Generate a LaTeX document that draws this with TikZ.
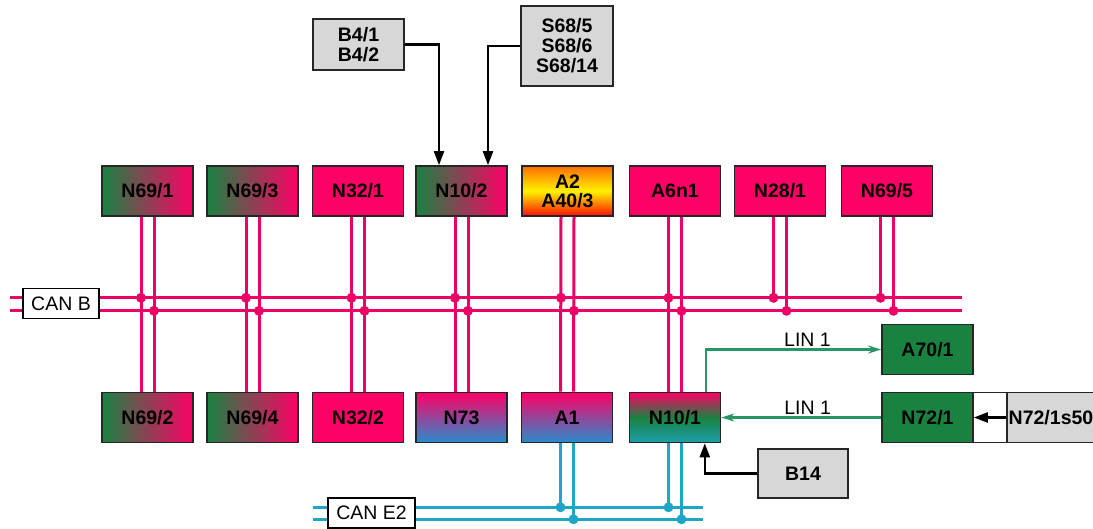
\documentclass[tikz,border=0pt]{standalone}
\usepackage{fontspec}
\setmainfont{Liberation Sans}
\usetikzlibrary{arrows.meta}

\definecolor{canbpink}{RGB}{236,0,102}
\definecolor{ecupink}{RGB}{255,0,102}
\definecolor{ecugreen}{RGB}{25,130,65}
\definecolor{canecyan}{RGB}{30,165,200}
\definecolor{ecublue}{RGB}{40,140,205}
\definecolor{lingreen}{RGB}{40,150,100}
\definecolor{sensorgray}{RGB}{215,215,215}

\begin{document}
\begin{tikzpicture}[x=1pt, y=-1pt,
        ecu/.style = {draw=black!85, line width=1.6pt, minimum width=91pt, minimum height=50pt,
                      inner sep=0pt, align=center, font=\fontsize{19.5}{21}\selectfont\bfseries},
        pinkecu/.style = {ecu, fill=ecupink},
        greenecu/.style = {ecu, fill=ecugreen},
        mixecu/.style = {ecu, left color=ecugreen, right color=ecupink},
        blueecu/.style = {ecu, top color=ecupink, bottom color=ecublue},
        sensor/.style = {ecu, fill=sensorgray, font=\fontsize{19.5}{20}\selectfont\bfseries},
        buslabel/.style = {draw, line width=1.5pt, fill=white, minimum height=30pt,
                           inner sep=3pt, font=\fontsize{19.5}{21}\selectfont},
        canb/.style = {draw=canbpink, line width=3pt},
        cane/.style = {draw=canecyan, line width=3pt},
        lin/.style = {draw=lingreen, line width=2.4pt, -{Stealth[length=13pt, width=8pt]}},
        sig/.style = {draw, line width=2.2pt, -{Triangle[length=14pt, width=10pt]}},
        lintext/.style = {font=\fontsize{19.5}{21}\selectfont, inner sep=2pt}]

    \useasboundingbox (0,0) rectangle (1093,528);

    % top row
    \node[mixecu]  (n691) at (147.5,191) {N69/1};
    \node[mixecu]  (n693) at (252.5,191) {N69/3};
    \node[pinkecu] (n321) at (358,191)   {N32/1};
    \node[mixecu]  (n102) at (461.5,191) {N10/2};
    \node[ecu, top color=orange!85!red, bottom color=red!90!orange, middle color=yellow!90!orange]
                   (a2)   at (567.5,191) {A2\\[-2pt]A40/3};
    \node[pinkecu] (a6n1) at (675,191)   {A6n1};
    \node[pinkecu] (n281) at (780,191)   {N28/1};
    \node[pinkecu] (n695) at (887,191)   {N69/5};

    % bottom row
    \node[mixecu]  (n692) at (147.5,417.5) {N69/2};
    \node[mixecu]  (n694) at (252.5,417.5) {N69/4};
    \node[pinkecu] (n322) at (358,417.5)   {N32/2};
    \node[blueecu] (n73)  at (461.5,417.5) {N73};
    \node[blueecu] (a1)   at (567,417.5)   {A1};
    \node[ecu, top color=ecupink, bottom color=canecyan!80!ecugreen, middle color=ecugreen]
                   (n101) at (675,417.5)   {N10/1};

    % LIN side
    \node[greenecu] (a701) at (927.5,349.5) {A70/1};
    \node[greenecu] (n721) at (927.5,417.5) {N72/1};
    \node[ecu, minimum width=34pt] (n72w) at (990,417.5) {};
    \node[sensor, minimum width=88pt] (n72s) at (1051,417.5) {N72/1s50};
    \node[sensor, minimum width=90pt, minimum height=49pt] (b14) at (803,473.5) {B14};

    % sensors on top
    \node[sensor, minimum height=51pt] (b4) at (358.5,44.5) {B4/1\\B4/2};
    \node[sensor, minimum width=92pt, minimum height=80pt] (s68) at (567,46) {S68/5\\S68/6\\S68/14};

    % CAN B
    \coordinate (canbl1) at (10,297);
    \coordinate (canbl2) at (10,310);
    \coordinate (canbr1) at (962,297);
    \coordinate (canbr2) at (962,310);
    \node[buslabel, minimum width=76pt] (canblab) at (61,303.5) {CAN B};
    \draw[canb] (canbl1) -- (canblab.west |- canbl1);
    \draw[canb] (canbl2) -- (canblab.west |- canbl2);
    \draw[canb] (canblab.east |- canbr1) -- (canbr1);
    \draw[canb] (canblab.east |- canbr2) -- (canbr2);

    \foreach \t/\b in {n691/n692, n693/n694, n321/n322, n102/n73, a2/a1, a6n1/n101} {
        \draw[canb] ([xshift=-6.5pt]\t.south) -- ([xshift=-6.5pt]\b.north);
        \draw[canb] ([xshift=6.5pt]\t.south) -- ([xshift=6.5pt]\b.north);
    }
    \foreach \t in {n281, n695} {
        \draw[canb] ([xshift=-6.5pt]\t.south) -- ++(0,81);
        \draw[canb] ([xshift=6.5pt]\t.south) -- ++(0,94);
    }
    \foreach \t in {n691, n693, n321, n102, a2, a6n1, n281, n695} {
        \fill[canbpink] ([xshift=-6.5pt, yshift=-81pt]\t.south) circle (5pt);
        \fill[canbpink] ([xshift=6.5pt, yshift=-94pt]\t.south) circle (5pt);
    }

    % CAN E2
    \coordinate (canel1) at (313,507);
    \coordinate (canel2) at (313,519);
    \coordinate (caner1) at (703,507);
    \coordinate (caner2) at (703,519);
    \node[buslabel, minimum width=87pt] (canelab) at (371.5,513) {CAN E2};
    \draw[cane] (canel1) -- (canelab.west |- canel1);
    \draw[cane] (canel2) -- (canelab.west |- canel2);
    \draw[cane] (canelab.east |- caner1) -- (caner1);
    \draw[cane] (canelab.east |- caner2) -- (caner2);

    \foreach \b in {a1, n101} {
        \draw[cane] ([xshift=-6.5pt]\b.south) -- ++(0,64);
        \draw[cane] ([xshift=6.5pt]\b.south) -- ++(0,76);
        \fill[canecyan] ([xshift=-6.5pt, yshift=-64pt]\b.south) circle (5pt);
        \fill[canecyan] ([xshift=6.5pt, yshift=-76pt]\b.south) circle (5pt);
    }

    % LIN 1
    \draw[lin] ([xshift=-15.5pt]n101.north east) |- (a701.west)
        node[lintext, pos=0.79, above] {LIN 1};
    \draw[lin] (n721.west) -- (n101.east)
        node[lintext, pos=0.46, above] {LIN 1};

    % inputs
    \draw[sig] (n72s.west) -- (n721.east);
    \draw[sig] (b14.west) -| ([xshift=-16.5pt]n101.south east);
    \draw[sig] (b4.east) -| ([xshift=-22.5pt]n102.north);
    \draw[sig] (s68.west) -| ([xshift=26.5pt]n102.north);
\end{tikzpicture}
\end{document}
